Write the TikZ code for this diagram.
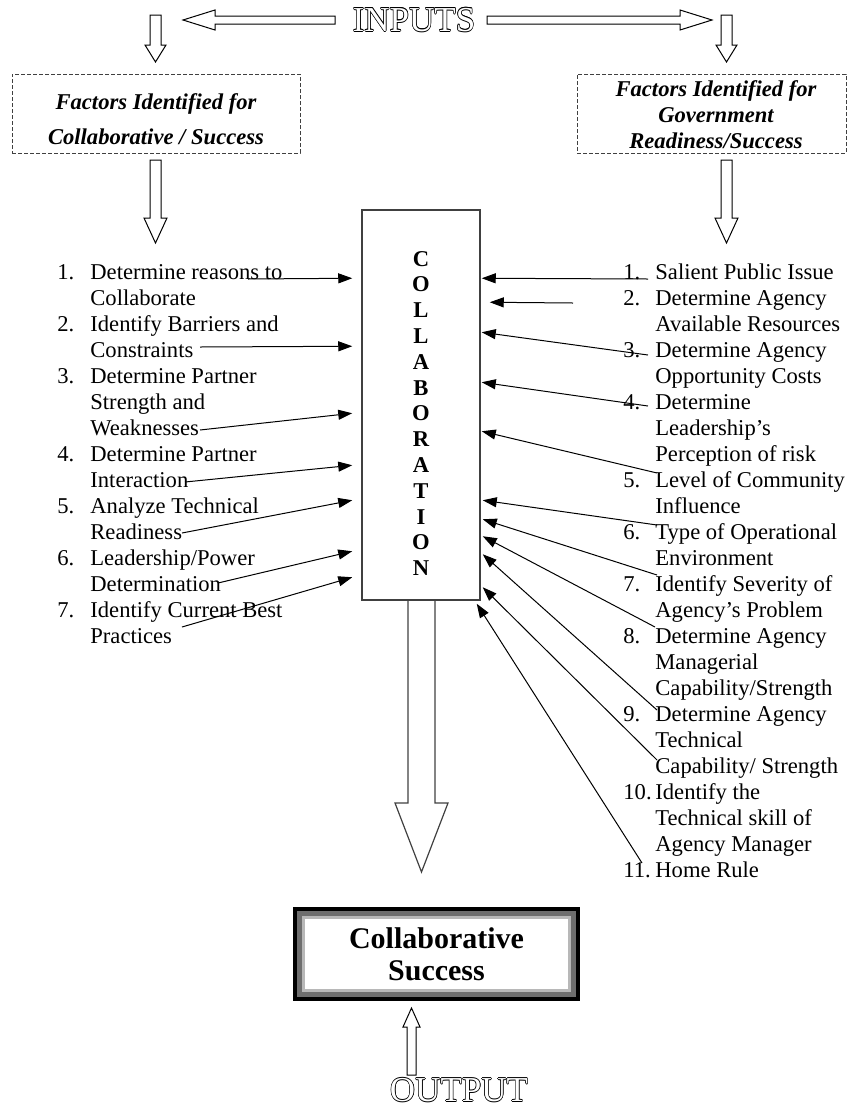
\documentclass[tikz,border=0pt]{standalone}
\usepackage{fontspec}
\setmainfont{Liberation Serif}
\usetikzlibrary{arrows.meta}
\newcommand\listfont{\fontsize{11.3}{13}\selectfont}
\definecolor{boxgray}{HTML}{404040}
\definecolor{framegray}{HTML}{6E6E6E}
\definecolor{framelight}{HTML}{B8B8B8}
\tikzset{
  listtext/.style={anchor=base west, align=left, inner sep=0pt, font=\listfont},
  listnum/.style={anchor=base west, inner sep=0pt, font=\listfont},
  factorbox/.style={draw=boxgray, dash pattern=on 2pt off 1pt, line width=0.4pt, minimum height=39.5pt, inner sep=0pt},
  factortext/.style={anchor=base, align=center, inner sep=0pt},
  collabbox/.style={draw=boxgray, line width=0.75pt, minimum width=59pt, minimum height=195pt, inner sep=0pt},
  successbox/.style={fill=white, align=center, inner sep=0pt, minimum width=131.5pt, minimum height=35pt,
    font=\bfseries\fontsize{15}{16}\selectfont},
  outlinetxt/.style={inner sep=0pt, font=\fontsize{17.5}{20}\selectfont},
  hollow/.style={draw, line width=0.5pt, fill=white},
  feed/.style={-{Triangle[length=7pt,width=5pt]}, line width=0.5pt},
}
\begin{document}
\begin{tikzpicture}[x=0.5pt,y=-0.5pt]
\useasboundingbox (0,0) rectangle (848,1110);

% inputs on top
\coordinate (inputspos) at (414,20);
\foreach \a in {0,45,...,315}
  \node[outlinetxt] at ([shift={(\a:0.3pt)}]inputspos) {INPUTS};
\node[outlinetxt, text=white] (inputs) at (inputspos) {INPUTS};
\draw[hollow] (335,16) -- (215,16) -- (215,10) -- (183,20) -- (215,30) -- (215,24) -- (335,24) -- cycle;
\draw[hollow] (487,16) -- (680,16) -- (680,10) -- (712,20) -- (680,30) -- (680,24) -- (487,24) -- cycle;
\draw[hollow] (150,15) -- (150,45) -- (145,45) -- (155.5,62) -- (166,45) -- (161,45) -- (161,15) -- cycle;
\draw[hollow] (721,15) -- (721,45) -- (716,45) -- (726.5,62) -- (737,45) -- (732,45) -- (732,15) -- cycle;

% factor boxes (text nodes sit on their last baseline)
\node[factorbox, minimum width=144pt] (collabfactors) at (156,113.5) {};
\node[factortext, font=\bfseries\itshape\fontsize{11.3}{17.5}\selectfont] (collabfactorstext) at (156,144)
  {Factors Identified for\\Collaborative / Success};
\node[factorbox, minimum width=134.5pt] (govfactors) at (711.5,113.5) {};
\node[factortext, font=\bfseries\itshape\listfont] (govfactorstext) at (716,148)
  {Factors Identified for\\Government\\Readiness/Success};
\draw[hollow] (150,160) -- (150,218) -- (144,218) -- (155.5,243) -- (167,218) -- (161,218) -- (161,160) -- cycle;
\draw[hollow] (721,160) -- (721,218) -- (715,218) -- (726.5,243) -- (738,218) -- (732,218) -- (732,160) -- cycle;

% collaboration column
\node[collabbox] (collab) at (421,405) {};
\node[factortext, font=\bfseries\fontsize{11.3}{12.9}\selectfont] (collabword) at (421,575.6)
  {C\\O\\L\\L\\A\\B\\O\\R\\A\\T\\I\\O\\N};
\draw[draw=boxgray, line width=0.6pt] (408,600) -- (408,803) -- (395,803) -- (421.5,872) -- (448,803) -- (435,803) -- (435,600);

% left list
\node[listnum] (ln1) at (57,279) {1.};
\node[listtext] (l1) at (90,305) {Determine reasons to\\Collaborate};
\node[listnum] (ln2) at (57,331) {2.};
\node[listtext] (l2) at (90,357) {Identify Barriers and\\Constraints};
\node[listnum] (ln3) at (57,383) {3.};
\node[listtext] (l3) at (90,435) {Determine Partner\\Strength and\\Weaknesses};
\node[listnum] (ln4) at (57,461) {4.};
\node[listtext] (l4) at (90,487) {Determine Partner\\Interaction};
\node[listnum] (ln5) at (57,513) {5.};
\node[listtext] (l5) at (90,539) {Analyze Technical\\Readiness};
\node[listnum] (ln6) at (57,565) {6.};
\node[listtext] (l6) at (90,591) {Leadership/Power\\Determination};
\node[listnum] (ln7) at (57,617) {7.};
\node[listtext] (l7) at (90,643) {Identify Current Best\\Practices};

% right list
\node[listnum] (rn1) at (623,279) {1.};
\node[listtext] (r1) at (655,279) {Salient Public Issue};
\node[listnum] (rn2) at (623,305) {2.};
\node[listtext] (r2) at (655,331) {Determine Agency\\Available Resources};
\node[listnum] (rn3) at (623,357) {3.};
\node[listtext] (r3) at (655,383) {Determine Agency\\Opportunity Costs};
\node[listnum] (rn4) at (623,409) {4.};
\node[listtext] (r4) at (655,461) {Determine\\Leadership’s\\Perception of risk};
\node[listnum] (rn5) at (623,487) {5.};
\node[listtext] (r5) at (655,513) {Level of Community\\Influence};
\node[listnum] (rn6) at (623,539) {6.};
\node[listtext] (r6) at (655,565) {Type of Operational\\Environment};
\node[listnum] (rn7) at (623,591) {7.};
\node[listtext] (r7) at (655,617) {Identify Severity of\\Agency’s Problem};
\node[listnum] (rn8) at (623,643) {8.};
\node[listtext] (r8) at (655,695) {Determine Agency\\Managerial\\Capability/Strength};
\node[listnum] (rn9) at (623,721) {9.};
\node[listtext] (r9) at (655,773) {Determine Agency\\Technical\\Capability/ Strength};
\node[listnum] (rn10) at (623,799) {10.};
\node[listtext] (r10) at (655,851) {Identify the\\Technical skill of\\Agency Manager};
\node[listnum] (rn11) at (623,877) {11.};
\node[listtext] (r11) at (655,877) {Home Rule};

% arrows into the column, left side
\draw[feed] ([shift={(158,-26)}]l1.base west) -- ([shift={(-9,69)}]collab.north west);
\draw[feed] ([shift={(110,-10)}]l2.base west) -- ([shift={(-9,137)}]collab.north west);
\draw[feed] ([shift={(110,-5)}]l3.base west) -- ([shift={(-9,204)}]collab.north west);
\draw[feed] ([shift={(95,-5)}]l4.base west) -- ([shift={(-9,256)}]collab.north west);
\draw[feed] ([shift={(92,-6)}]l5.base west) -- ([shift={(-9,291)}]collab.north west);
\draw[feed] ([shift={(128,-8)}]l6.base west) -- ([shift={(-9,342)}]collab.north west);
\draw[feed] ([shift={(92,-16)}]l7.base west) -- ([shift={(-9,368)}]collab.north west);

% arrows into the column, right side
\coordinate (r2tail) at (573,303);
\draw[feed] ([shift={(-7,0)}]r1.base west) -- ([shift={(1,69)}]collab.north east);
\draw[feed] (r2tail) -- ([shift={(9,93)}]collab.north east);
\draw[feed] ([shift={(-7,-28)}]r3.base west) -- ([shift={(1,123)}]collab.north east);
\draw[feed] ([shift={(-7,-55)}]r4.base west) -- ([shift={(1,173)}]collab.north east);
\draw[feed] ([shift={(2,-40)}]r5.base west) -- ([shift={(1,222)}]collab.north east);
\draw[feed] ([shift={(2,-40)}]r6.base west) -- ([shift={(2,291)}]collab.north east);
\draw[feed] ([shift={(2,-42)}]r7.base west) -- ([shift={(2,310)}]collab.north east);
\draw[feed] ([shift={(0,-68)}]r8.base west) -- ([shift={(2,327)}]collab.north east);
\draw[feed] ([shift={(2,-63)}]r9.base west) -- ([shift={(2,345)}]collab.north east);
\draw[feed] ([shift={(2,-13)}]r9.base west) -- ([shift={(2,378)}]collab.north east);
\draw[feed] ([shift={(-13,-14)}]r11.base west) -- ([shift={(-4,3)}]collab.south east);

% result box
\node[successbox] (success) at (436.5,954) {Collaborative\\Success};
\draw[framelight, line width=1.5pt] ([shift={(-1.5,-1.5)}]success.north west) rectangle ([shift={(1.5,1.5)}]success.south east);
\draw[framegray, line width=2.5pt] ([shift={(-5.5,-5.5)}]success.north west) rectangle ([shift={(5.5,5.5)}]success.south east);
\draw[black, line width=2pt] ([shift={(-10,-10)}]success.north west) rectangle ([shift={(10,10)}]success.south east);

% output below
\draw[hollow] (407,1075) -- (407,1027) -- (403,1027) -- (411.5,1008) -- (420,1027) -- (416,1027) -- (416,1075) -- cycle;
\coordinate (outputpos) at (459,1090);
\foreach \a in {0,45,...,315}
  \node[outlinetxt] at ([shift={(\a:0.3pt)}]outputpos) {OUTPUT};
\node[outlinetxt, text=white] (output) at (outputpos) {OUTPUT};
\end{tikzpicture}
\end{document}
